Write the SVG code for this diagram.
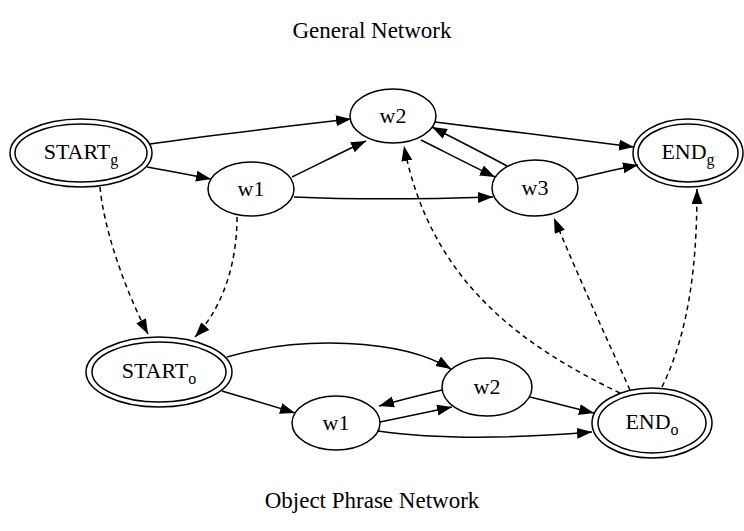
<svg xmlns="http://www.w3.org/2000/svg" width="744" height="531" viewBox="0 0 744 531">
<style>
text{font-family:"Liberation Serif","Times New Roman",serif;fill:#000}
.lbl{font-size:22px;text-anchor:middle}
.sub{font-size:16px}
.title{font-size:23px;text-anchor:middle}
ellipse{fill:none;stroke:#000;stroke-width:1.5}
.e{fill:none;stroke:#000;stroke-width:1.5;marker-end:url(#ah)}
.d{stroke-dasharray:5,4}
</style>
<defs>
<marker id="ah" markerUnits="userSpaceOnUse" markerWidth="16" markerHeight="12" refX="15" refY="5.5" orient="auto">
<path d="M0,0 L15,5.5 L0,11 z" fill="#000"/>
</marker>
</defs>
<rect width="744" height="531" fill="#fff"/>
<text class="title" x="372" y="38">General Network</text>
<text class="title" x="372" y="508">Object Phrase Network</text>
<g id="connectors">
<path class="e" d="M150,144 C220,134 290,126 351,119"/>
<path class="e" d="M147,167 C170,171 190,175 211,179"/>
<path class="e" d="M292,177 C315,166 342,152 366,141"/>
<path class="e" d="M294,197 C360,200 430,199 493,197"/>
<path class="e" d="M435,122 C500,130 570,139 634,147"/>
<path class="e" d="M421,140 C445,152 470,165 495,177"/>
<path class="e" d="M507,166 C483,153 457,140 432,127"/>
<path class="e" d="M576,179 C597,174 617,169 638,165"/>
<path class="e d" d="M100,187 C104,230 125,290 148,334"/>
<path class="e d" d="M237,217 C237,260 225,305 195,337"/>
<path class="e d" d="M620,393 C520,345 430,280 404,146"/>
<path class="e d" d="M630,390 C605,335 580,280 554,218"/>
<path class="e d" d="M662,387 C690,330 697,260 697,189"/>
<path class="e" d="M227,357 C300,336 400,338 451,369"/>
<path class="e" d="M222,391 C245,398 270,405 295,413"/>
<path class="e" d="M442,390 C421,395 400,400 379,406"/>
<path class="e" d="M380,422 C404,417 428,412 452,407"/>
<path class="e" d="M378,431 C440,440 520,438 592,432"/>
<path class="e" d="M530,397 C551,402 573,408 594,413"/>
</g>
<g id="START_g">
<ellipse cx="81" cy="153" rx="71" ry="34"/>
<ellipse cx="81" cy="153" rx="66" ry="29"/>
<text class="lbl" x="81" y="159">START<tspan class="sub" dy="6">g</tspan></text>
</g>
<g id="w1_g">
<ellipse cx="251" cy="189" rx="43" ry="27"/>
<text class="lbl" x="251" y="196">w1</text>
</g>
<g id="w2_g">
<ellipse cx="393" cy="116" rx="43" ry="27"/>
<text class="lbl" x="393" y="123">w2</text>
</g>
<g id="w3_g">
<ellipse cx="535" cy="188" rx="43" ry="28"/>
<text class="lbl" x="535" y="195">w3</text>
</g>
<g id="END_g">
<ellipse cx="688" cy="153" rx="55" ry="34"/>
<ellipse cx="688" cy="153" rx="50" ry="29"/>
<text class="lbl" x="688" y="159">END<tspan class="sub" dy="6">g</tspan></text>
</g>
<g id="START_o">
<ellipse cx="159" cy="372" rx="73" ry="35"/>
<ellipse cx="159" cy="372" rx="67" ry="30"/>
<text class="lbl" x="159" y="378">START<tspan class="sub" dy="6">o</tspan></text>
</g>
<g id="w1_o">
<ellipse cx="336" cy="423" rx="44" ry="27"/>
<text class="lbl" x="336" y="430">w1</text>
</g>
<g id="w2_o">
<ellipse cx="487" cy="387" rx="45" ry="29"/>
<text class="lbl" x="487" y="394">w2</text>
</g>
<g id="END_o">
<ellipse cx="652" cy="423" rx="60" ry="35"/>
<ellipse cx="652" cy="423" rx="54" ry="30"/>
<text class="lbl" x="652" y="429">END<tspan class="sub" dy="6">o</tspan></text>
</g>
</svg>
